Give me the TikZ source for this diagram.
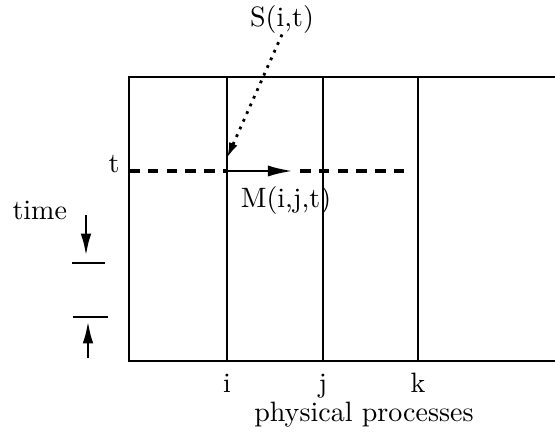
\documentclass[tikz,border=0pt]{standalone}
\usetikzlibrary{positioning, arrows.meta}
\tikzset{
    procline/.style={line width=1pt},
    timeline/.style={line width=1.1pt, dash pattern=on 3.8pt off 2.9pt},
    msgarrow/.style={-{Latex[length=9pt, width=4pt]}, line width=1pt},
    statearrow/.style={-{Latex[length=5.5pt, width=3.2pt]}, line width=1pt, dotted},
    tickarrow/.style={-{Latex[length=8pt, width=3.8pt]}, line width=1pt},
    lbl/.style={anchor=base, inner sep=0pt},
}

\begin{document}
\begin{tikzpicture}[x=0.357pt, y=-0.357pt]
    \useasboundingbox (0,0) rectangle (555,444);

    % Rahmen
    \coordinate (tl) at (129,77);
    \coordinate (tr) at (555,77);
    \coordinate (bl) at (129,361);
    \coordinate (br) at (555,361);
    \draw[procline] (tr) -- (tl) -- (bl) -- (br);

    % Prozesse i, j, k
    \foreach \p/\x in {i/227, j/323, k/418} {
        \coordinate (top\p) at (\x,77);
        \coordinate (bot\p) at (\x,361);
        \draw[procline] (top\p) -- (bot\p);
        \node[lbl] (name\p) at (\x,392) {\p};
    }
    \node[lbl] (phys) at (364,421) {physical processes};

    % Zeitpunkt t
    \node[lbl, anchor=base east] (tlab) at (120,173) {t};
    \coordinate (tstart) at (129,171);
    \coordinate (tend) at (409,171);

    % Nachricht M(i,j,t)
    \coordinate (send) at (227,171);
    \coordinate (mtip) at (293,171);
    \coordinate (mgap) at (300,171);
    \draw[timeline] (tstart) -- (send);
    \draw[timeline] (mgap) -- (tend);
    \draw[msgarrow] (send) -- (mtip);
    \node[lbl] (mlab) at (286,208) {M(i,j,t)};

    % Zustand S(i,t)
    \node[lbl] (slab) at (282,27) {S(i,t)};
    \coordinate (stip) at (227,158);
    \draw[statearrow] (slab.south) -- (stip);

    % Zeitachse
    \node[lbl, anchor=base west] (timelab) at (12,220) {time};
    \coordinate (dtop) at (86,215);
    \coordinate (dtip) at (86,256);
    \coordinate (bar1w) at (72,263);
    \coordinate (bar1e) at (105,263);
    \coordinate (bar2w) at (73,317);
    \coordinate (bar2e) at (108,317);
    \coordinate (utail) at (88,358);
    \coordinate (utip) at (88,321);
    \draw[tickarrow] (dtop) -- (dtip);
    \draw[procline] (bar1w) -- (bar1e);
    \draw[procline] (bar2w) -- (bar2e);
    \draw[tickarrow] (utail) -- (utip);
\end{tikzpicture}
\end{document}
